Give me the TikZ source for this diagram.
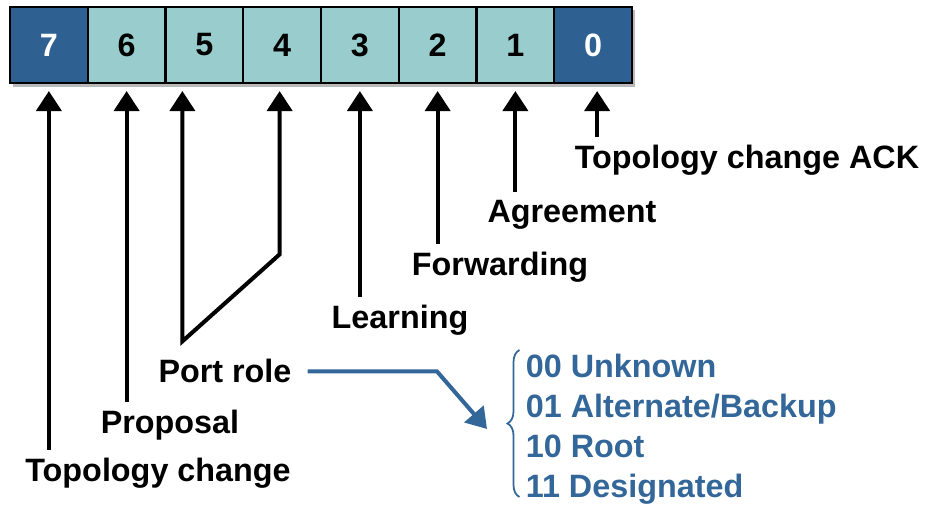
\documentclass[tikz,border=0pt]{standalone}
\usepackage{fontspec}
\setmainfont{Liberation Sans}
\usepackage{xcolor}
\usepackage{tikz}
\usetikzlibrary{positioning,arrows.meta,calc,decorations.pathreplacing}

\definecolor{bitdark}{RGB}{46,96,146}
\definecolor{bitlight}{RGB}{153,204,204}
\definecolor{roleblue}{RGB}{51,102,153}

\tikzset{
  >={Triangle[width=0.5cm,length=0.4cm]},
  bigfont/.style={font=\fontsize{18.4pt}{22.8pt}\selectfont\bfseries},
  bit/.style={draw=black, line width=1.2pt, minimum width=1.555cm,
    minimum height=1.52cm, inner sep=0pt, bigfont},
  lbl/.style={anchor=base, bigfont},
  role/.style={anchor=base west, inner sep=0pt, text=roleblue, bigfont},
  flag/.style={->, line width=2.3pt, shorten >=0.14cm, shorten <=1.5pt},
}

\begin{document}
\begin{tikzpicture}[scale=1]
\useasboundingbox (0,0) rectangle (18.5,10.14);
% BPDU flags byte
\fill[gray!55] (0.26,8.40) rectangle (12.70,9.94);
\foreach \b/\fc/\tc [count=\j from 0] in {7/bitdark/white,6/bitlight/black,5/bitlight/black,4/bitlight/black,3/bitlight/black,2/bitlight/black,1/bitlight/black,0/bitdark/white}
  \node[bit, fill=\fc, text=\tc] (b\b) at (0.9775+1.555*\j,9.24) {\b};
% Labels
\node[lbl] (tc) at (3.16,0.50) {Topology change};
\node[lbl] (prop) at (3.40,1.46) {Proposal};
\node[lbl] (pr) at (4.50,2.48) {Port role};
\node[lbl] (learn) at (8.00,3.56) {Learning};
\node[lbl] (fwd) at (10.00,4.62) {Forwarding};
\node[lbl] (agr) at (11.44,5.68) {Agreement};
\node[lbl] (ack) at (14.94,6.76) {Topology change ACK};
% Arrows up to the bits
\draw[flag] (tc.north -| b7) -- (b7.south);
\draw[flag] (prop.north -| b6) -- (b6.south);
\draw[flag] (learn.north -| b3) -- (b3.south);
\draw[flag] (fwd.north -| b2) -- (b2.south);
\draw[flag] (agr.north -| b1) -- (b1.south);
\coordinate (p0) at ([xshift=0.08cm]b0.south);
\draw[flag] (ack.north -| p0) -- (p0);
% Port role covers bits 5 and 4
\coordinate (p5) at ([xshift=-0.44cm]b5.south);
\coordinate (p4) at ([xshift=-0.05cm]b4.south);
\coordinate (pv) at ($(p5 |- pr.north)+(0,0.24)$);
\coordinate (pc) at ($(p4 |- pr.north)+(0,1.98)$);
\draw[<->, line width=2.3pt, shorten >=0.14cm, shorten <=0.14cm]
  (p5) -- (pv) -- (pc) -- (p4);
% Port role values
\foreach \y/\c/\t in {2.58/00/Unknown,1.78/01/{Alternate/Backup},0.98/10/Root,0.18/11/Designated}
  \node[role] (r\c) at (10.51,\y) {\c\ \t};
\draw[roleblue, line width=1pt, decorate, decoration={brace,amplitude=0.24cm}]
  ([shift={(-0.12,0.02)}]r11.base west) -- ([shift={(-0.12,0.56)}]r00.base west);
\coordinate (bx) at (8.74,0);
\coordinate (rt) at (9.74,1.56);
\draw[->, roleblue, line width=2.3pt, shorten <=0.2cm] (pr.east) -- (pr.east -| bx) -- (rt);
\end{tikzpicture}
\end{document}
